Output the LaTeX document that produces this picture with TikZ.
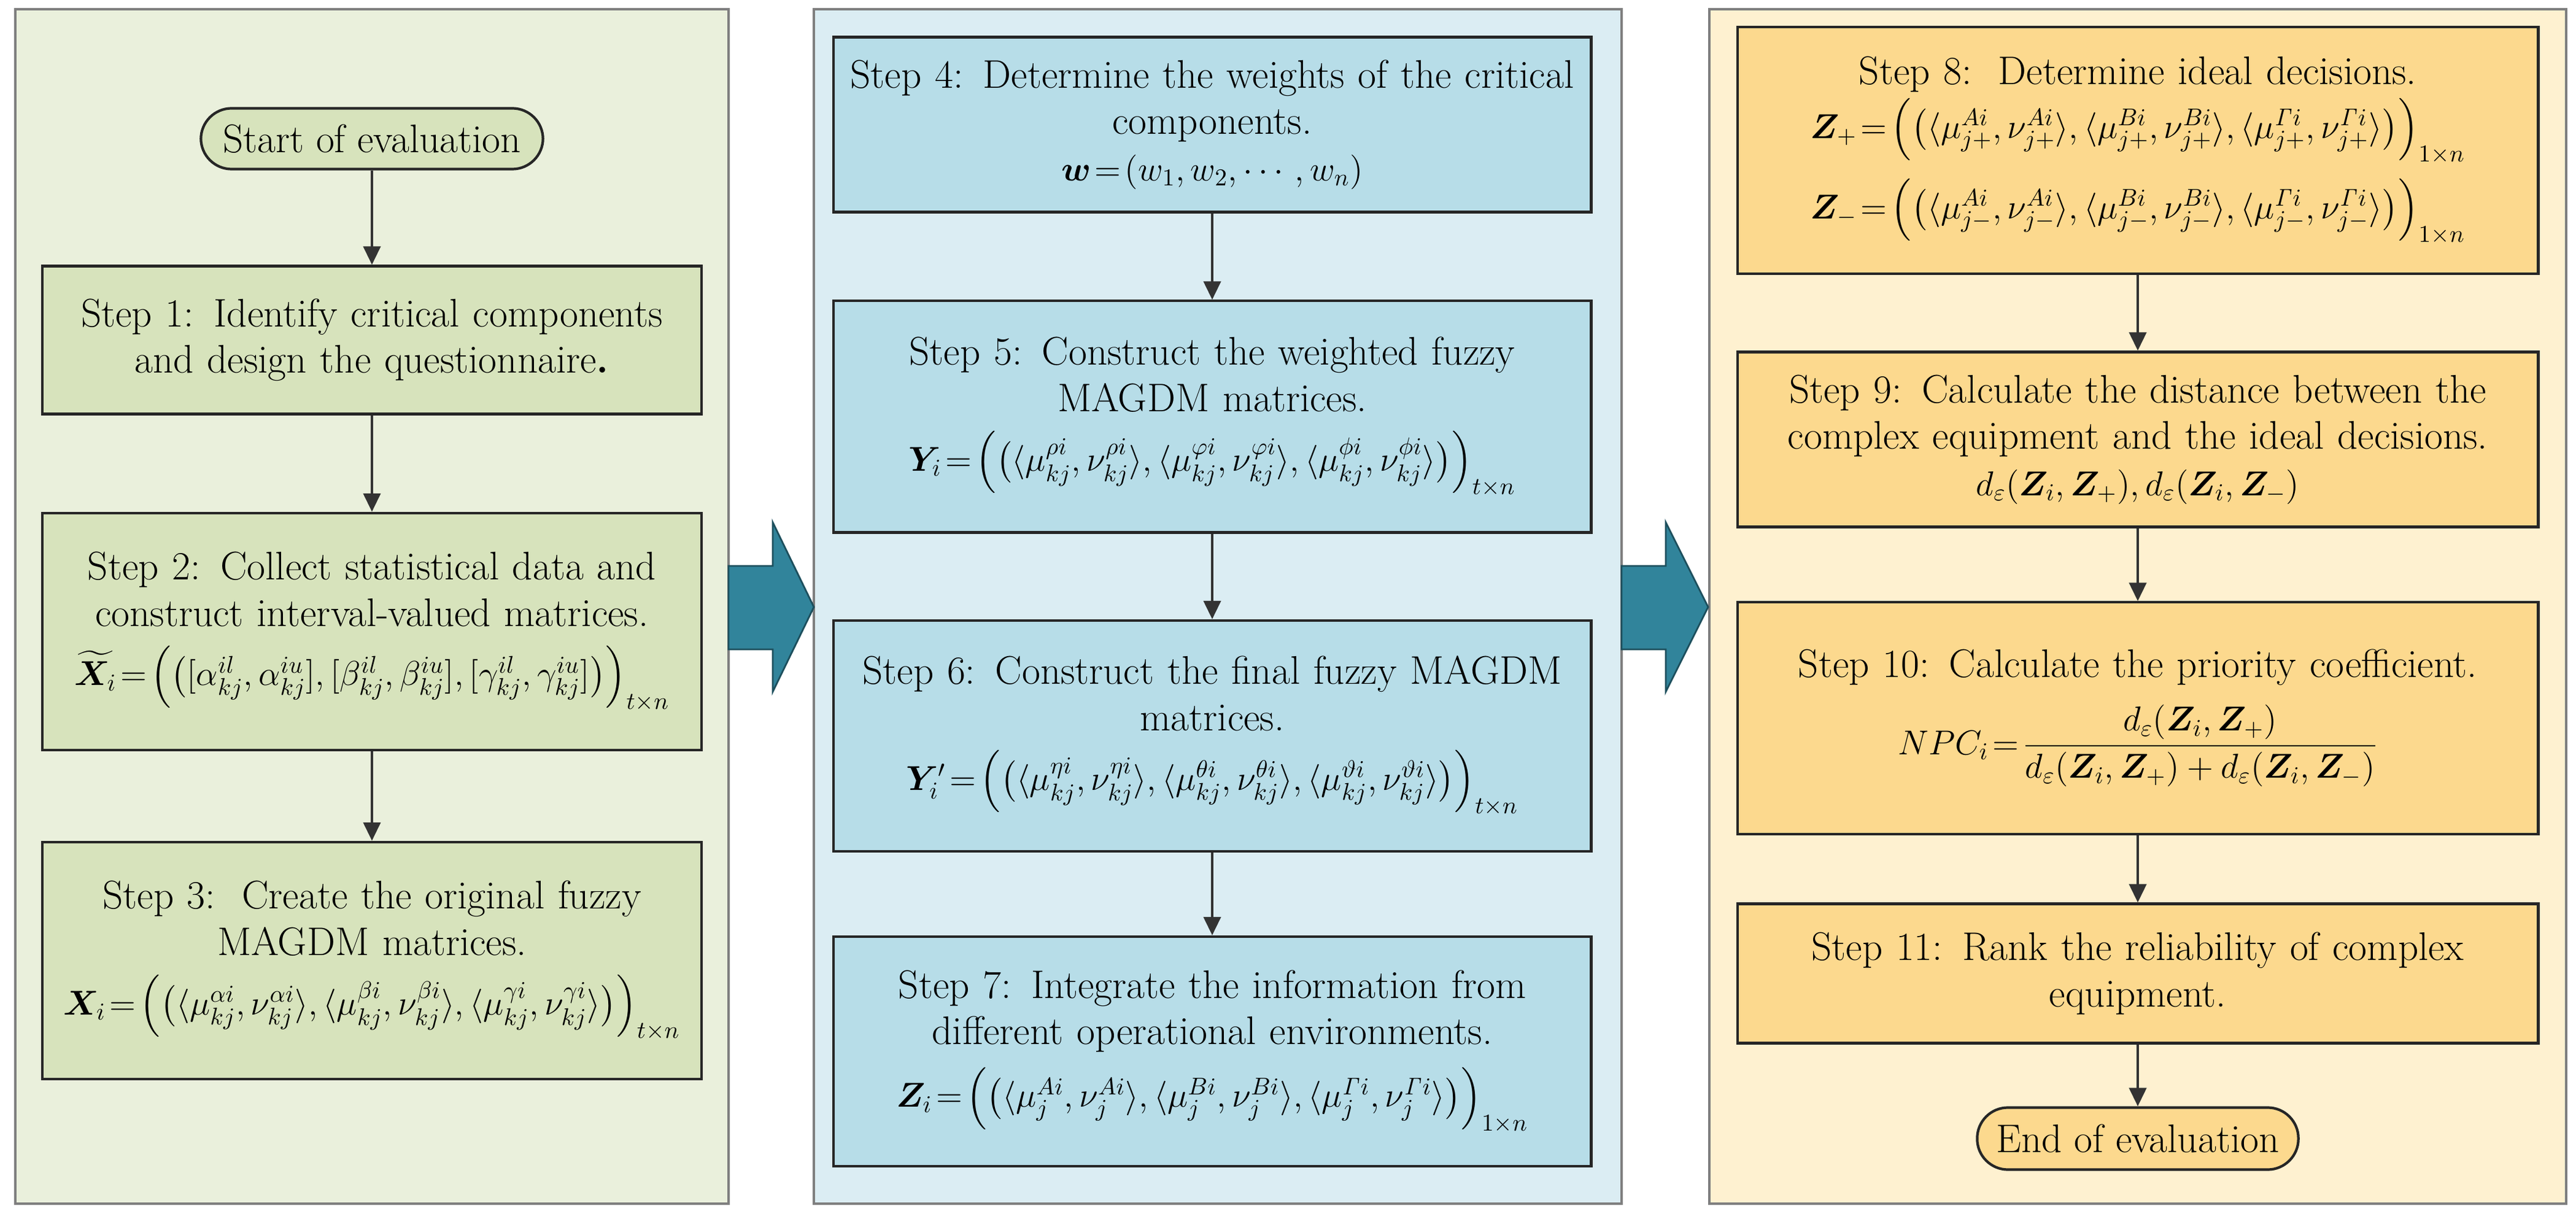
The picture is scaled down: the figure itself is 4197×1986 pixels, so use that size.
\documentclass[tikz,border=0pt]{standalone}
\usepackage{fix-cm}
\usepackage{amsmath,amssymb,bm}
\usetikzlibrary{arrows.meta}
\definecolor{lpanel}{HTML}{EAF0DC}
\definecolor{lbox}{HTML}{D7E3BC}
\definecolor{mpanel}{HTML}{DBEDF3}
\definecolor{mbox}{HTML}{B7DDE8}
\definecolor{rpanel}{HTML}{FEF1D0}
\definecolor{rbox}{HTML}{FCD98E}
\definecolor{bigarrow}{HTML}{31849B}
\definecolor{pborder}{HTML}{7F7F7F}
\newcommand{\fm}[1]{{\fontsize{16}{19}\selectfont$#1$}}
\newcommand{\eqs}{\mskip2mu{=}\mskip2mu}
\begin{document}
\begin{tikzpicture}[x=0.01cm,y=-0.01cm,
  font=\fontsize{18.5}{21.5}\selectfont,
  panel/.style={draw=pborder,line width=1.2pt},
  box/.style={draw=black!85,line width=1.2pt,align=center,inner sep=2pt},
  lb/.style={box,fill=lbox,minimum width=10.73cm,text width=10.6cm},
  mb/.style={box,fill=mbox,minimum width=12.31cm,text width=12.2cm},
  rb/.style={box,fill=rbox,minimum width=13.03cm,text width=12.9cm},
  term/.style={draw=black!85,line width=1.2pt,rounded corners=0.5cm,align=center,minimum width=5.57cm,minimum height=0.99cm},
  arr/.style={-{Triangle[length=0.3cm,width=0.28cm]},line width=1.2pt,draw=black!80},
  big/.style={fill=bigarrow,draw=bigarrow!60!black,line width=0.8pt}]
\useasboundingbox (0,0) rectangle (4197,1986);
% panels
\draw[panel,fill=lpanel] (25,15) rectangle (1187,1961);
\draw[panel,fill=mpanel] (1326,15) rectangle (2642,1961);
\draw[panel,fill=rpanel] (2785,15) rectangle (4181,1961);
% big arrows
\draw[big] (1187,922) -- (1259,922) -- (1259,851) -- (1326,989) -- (1259,1127) -- (1259,1058) -- (1187,1058) -- cycle;
\draw[big] (2642,922) -- (2714,922) -- (2714,851) -- (2783,989) -- (2714,1127) -- (2714,1058) -- (2642,1058) -- cycle;
% left column
\node[term,fill=lbox] (start) at (606,226) {Start of evaluation};
\node[lb,minimum height=2.41cm] (s1) at (606,554) {Step 1: Identify critical components\\ and design the questionnaire\textbf{.}};
\node[lb,minimum height=3.86cm] (s2) at (606,1029) {Step 2: Collect statistical data and\\ construct interval-valued matrices.\\[6pt]
 \fm{\widetilde{\bm X}_i\eqs\Bigl(\bigl([\alpha^{il}_{kj},\alpha^{iu}_{kj}],[\beta^{il}_{kj},\beta^{iu}_{kj}],[\gamma^{il}_{kj},\gamma^{iu}_{kj}]\bigr)\Bigr)_{t\times n}}};
\node[lb,minimum height=3.86cm] (s3) at (606,1565) {Step 3:\ \ Create the original fuzzy\\ MAGDM matrices.\\[6pt]
 \fm{\bm X_i\eqs\Bigl(\bigl(\langle\mu^{\alpha i}_{kj},\nu^{\alpha i}_{kj}\rangle,\langle\mu^{\beta i}_{kj},\nu^{\beta i}_{kj}\rangle,\langle\mu^{\gamma i}_{kj},\nu^{\gamma i}_{kj}\rangle\bigr)\Bigr)_{t\times n}}};
% middle column
\node[mb,minimum height=2.85cm] (s4) at (1975,203) {Step 4: Determine the weights of the critical\\ components.\\
 \fm{\bm w\eqs(w_1,w_2,\cdots,w_n)}};
\node[mb,minimum height=3.77cm] (s5) at (1975,679) {Step 5: Construct the weighted fuzzy\\ MAGDM matrices.\\[6pt]
 \fm{\bm Y_i\eqs\Bigl(\bigl(\langle\mu^{\rho i}_{kj},\nu^{\rho i}_{kj}\rangle,\langle\mu^{\varphi i}_{kj},\nu^{\varphi i}_{kj}\rangle,\langle\mu^{\phi i}_{kj},\nu^{\phi i}_{kj}\rangle\bigr)\Bigr)_{t\times n}}};
\node[mb,minimum height=3.76cm] (s6) at (1975,1199) {Step 6: Construct the final fuzzy MAGDM\\ matrices.\\[6pt]
 \fm{\bm Y'_i\eqs\Bigl(\bigl(\langle\mu^{\eta i}_{kj},\nu^{\eta i}_{kj}\rangle,\langle\mu^{\theta i}_{kj},\nu^{\theta i}_{kj}\rangle,\langle\mu^{\vartheta i}_{kj},\nu^{\vartheta i}_{kj}\rangle\bigr)\Bigr)_{t\times n}}};
\node[mb,minimum height=3.74cm] (s7) at (1975,1713) {Step 7: Integrate the information from\\ different operational environments.\\[6pt]
 \fm{\bm Z_i\eqs\Bigl(\bigl(\langle\mu^{Ai}_{j},\nu^{Ai}_{j}\rangle,\langle\mu^{Bi}_{j},\nu^{Bi}_{j}\rangle,\langle\mu^{\mathit\Gamma i}_{j},\nu^{\mathit\Gamma i}_{j}\rangle\bigr)\Bigr)_{1\times n}}};
% right column
\node[rb,minimum height=4.02cm] (s8) at (3483,245) {Step 8:\ \ Determine ideal decisions.\\[2pt]
 \fm{\bm Z_+\eqs\Bigl(\bigl(\langle\mu^{Ai}_{j+},\nu^{Ai}_{j+}\rangle,\langle\mu^{Bi}_{j+},\nu^{Bi}_{j+}\rangle,\langle\mu^{\mathit\Gamma i}_{j+},\nu^{\mathit\Gamma i}_{j+}\rangle\bigr)\Bigr)_{1\times n}}\\[6pt]
 \fm{\bm Z_-\eqs\Bigl(\bigl(\langle\mu^{Ai}_{j-},\nu^{Ai}_{j-}\rangle,\langle\mu^{Bi}_{j-},\nu^{Bi}_{j-}\rangle,\langle\mu^{\mathit\Gamma i}_{j-},\nu^{\mathit\Gamma i}_{j-}\rangle\bigr)\Bigr)_{1\times n}}};
\node[rb,minimum height=2.85cm] (s9) at (3483,716) {Step 9: Calculate the distance between the\\ complex equipment and the ideal decisions.\\
 \fm{d_\varepsilon(\bm Z_i,\bm Z_+),d_\varepsilon(\bm Z_i,\bm Z_-)}};
\node[rb,minimum height=3.77cm] (s10) at (3483,1170) {Step 10: Calculate the priority coefficient.\\[8pt]
 \fm{NPC_i\eqs\dfrac{d_\varepsilon(\bm Z_i,\bm Z_+)}{d_\varepsilon(\bm Z_i,\bm Z_+)+d_\varepsilon(\bm Z_i,\bm Z_-)}}};
\node[rb,minimum height=2.27cm] (s11) at (3483,1586) {Step 11: Rank the reliability of complex\\ equipment.};
\node[term,fill=rbox,minimum width=5.23cm,minimum height=1.01cm] (end) at (3483,1855) {End of evaluation};
% connectors
\draw[arr] (start) -- (s1);
\draw[arr] (s1) -- (s2);
\draw[arr] (s2) -- (s3);
\draw[arr] (s4) -- (s5);
\draw[arr] (s5) -- (s6);
\draw[arr] (s6) -- (s7);
\draw[arr] (s8) -- (s9);
\draw[arr] (s9) -- (s10);
\draw[arr] (s10) -- (s11);
\draw[arr] (s11) -- (end);
\end{tikzpicture}
\end{document}
